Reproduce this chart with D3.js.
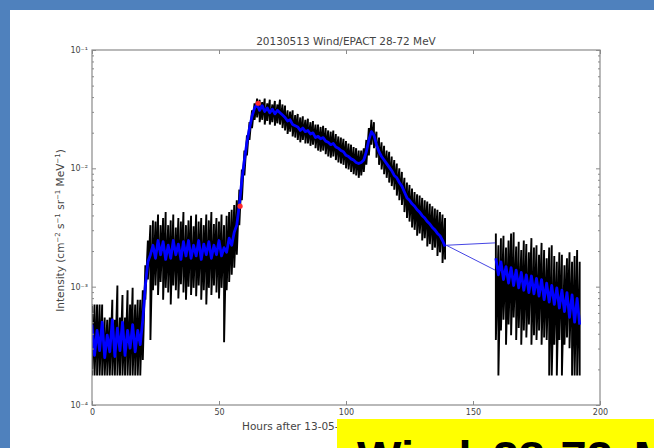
<!DOCTYPE html>
<html>
<head>
<meta charset="utf-8">
<script src="https://cdn.jsdelivr.net/npm/d3@7"></script>
<style>
	html, body { margin: 0; padding: 0; background: #fff; }
	svg { display: block; }
	.custom-text { font-family: "DejaVu Sans", sans-serif; fill: #444; }
</style>
</head>
<body>
<svg id="chart" width="654" height="448"></svg>
<script>
'use strict';

// Wind/EPACT 28-72 MeV, log10 of intensity (cm^-2 s^-1 sr^-1 MeV^-1), one sample per hour
var hoursBefore = d3.range(0, 140);
var blackHighBefore = [
	-3.15, -3.15, -3.15, -3.15, -3.15, -3.26, -3.28, -3.26, -3.11, -3.28,
	-2.99, -3.26, -3.07, -3.26, -3.03, -3.15, -3.01, -3.15, -3.11, -3.11,
	-3.03, -2.82, -2.61, -2.48, -2.44, -2.45, -2.39, -2.48, -2.42, -2.37,
	-2.48, -2.44, -2.39, -2.50, -2.42, -2.45, -2.37, -2.48, -2.44, -2.40,
	-2.49, -2.39, -2.45, -2.42, -2.48, -2.39, -2.44, -2.37, -2.47, -2.42,
	-2.45, -2.39, -2.48, -2.40, -2.37, -2.35, -2.31, -2.27, -2.18, -2.01,
	-1.85, -1.72, -1.61, -1.51, -1.45, -1.41, -1.42, -1.44, -1.41, -1.45,
	-1.42, -1.46, -1.43, -1.46, -1.42, -1.46, -1.47, -1.51, -1.52, -1.51,
	-1.55, -1.54, -1.57, -1.56, -1.59, -1.58, -1.61, -1.60, -1.63, -1.63,
	-1.65, -1.64, -1.66, -1.68, -1.69, -1.68, -1.71, -1.73, -1.74, -1.75,
	-1.77, -1.79, -1.80, -1.82, -1.83, -1.85, -1.85, -1.83, -1.76, -1.66,
	-1.59, -1.61, -1.69, -1.74, -1.78, -1.81, -1.85, -1.86, -1.90, -1.93,
	-1.96, -2.00, -2.03, -2.08, -2.12, -2.14, -2.17, -2.20, -2.22, -2.23,
	-2.25, -2.27, -2.28, -2.30, -2.32, -2.34, -2.35, -2.37, -2.39, -2.42
];
var blackLowBefore = [
	-3.75, -3.75, -3.75, -3.75, -3.75, -3.75, -3.75, -3.75, -3.75, -3.75,
	-3.75, -3.75, -3.75, -3.75, -3.75, -3.75, -3.75, -3.75, -3.75, -3.75,
	-3.62, -3.11, -2.94, -3.45, -3.03, -2.99, -3.07, -2.96, -3.11, -3.01,
	-3.05, -3.15, -2.99, -3.03, -3.10, -2.98, -3.05, -3.11, -3.00, -3.07,
	-3.01, -3.08, -2.99, -3.11, -3.03, -3.15, -3.01, -3.07, -2.99, -3.05,
	-3.10, -3.01, -3.47, -3.03, -2.96, -2.90, -2.84, -2.73, -2.48, -2.27,
	-2.06, -1.89, -1.76, -1.66, -1.59, -1.57, -1.61, -1.59, -1.63, -1.60,
	-1.63, -1.61, -1.64, -1.62, -1.63, -1.66, -1.68, -1.71, -1.69, -1.73,
	-1.74, -1.76, -1.78, -1.76, -1.79, -1.79, -1.81, -1.80, -1.83, -1.85,
	-1.86, -1.85, -1.88, -1.90, -1.91, -1.90, -1.93, -1.95, -1.96, -1.97,
	-2.00, -2.01, -2.03, -2.05, -2.06, -2.08, -2.06, -2.03, -1.97, -1.89,
	-1.80, -1.83, -1.91, -1.97, -2.01, -2.05, -2.08, -2.12, -2.15, -2.18,
	-2.23, -2.27, -2.31, -2.37, -2.42, -2.45, -2.50, -2.52, -2.57, -2.55,
	-2.61, -2.59, -2.66, -2.64, -2.69, -2.67, -2.74, -2.71, -2.80, -2.77
];
var blueBefore = [
	-3.32, -3.58, -3.37, -3.54, -3.30, -3.60, -3.41, -3.55, -3.28, -3.59,
	-3.35, -3.54, -3.30, -3.58, -3.37, -3.52, -3.32, -3.55, -3.37, -3.49,
	-3.28, -2.99, -2.79, -2.73, -2.65, -2.76, -2.61, -2.73, -2.62, -2.77,
	-2.65, -2.76, -2.61, -2.73, -2.64, -2.77, -2.62, -2.74, -2.61, -2.76,
	-2.65, -2.74, -2.61, -2.77, -2.64, -2.73, -2.62, -2.76, -2.65, -2.73,
	-2.61, -2.74, -2.67, -2.71, -2.59, -2.65, -2.54, -2.48, -2.31, -2.10,
	-1.93, -1.78, -1.66, -1.56, -1.49, -1.46, -1.51, -1.47, -1.52, -1.49,
	-1.53, -1.50, -1.54, -1.51, -1.53, -1.55, -1.57, -1.60, -1.59, -1.63,
	-1.64, -1.65, -1.68, -1.66, -1.69, -1.68, -1.71, -1.70, -1.74, -1.73,
	-1.75, -1.74, -1.77, -1.78, -1.80, -1.79, -1.82, -1.83, -1.85, -1.86,
	-1.89, -1.90, -1.92, -1.93, -1.95, -1.96, -1.95, -1.93, -1.86, -1.76,
	-1.69, -1.72, -1.80, -1.86, -1.90, -1.93, -1.96, -1.99, -2.02, -2.06,
	-2.08, -2.12, -2.15, -2.20, -2.25, -2.27, -2.30, -2.32, -2.35, -2.37,
	-2.40, -2.42, -2.45, -2.47, -2.50, -2.52, -2.55, -2.57, -2.61, -2.66
];

var hoursAfter = d3.range(159, 193);
var blackHighAfter = [
	-2.55, -2.65, -2.59, -2.57, -2.67, -2.61, -2.55, -2.54, -2.66, -2.62,
	-2.69, -2.61, -2.64, -2.71, -2.59, -2.67, -2.65, -2.73, -2.63, -2.69,
	-2.76, -2.67, -2.65, -2.74, -2.79, -2.71, -2.73, -2.82, -2.76, -2.71,
	-2.79, -2.74, -2.69, -2.79
];
var blackLowAfter = [
	-3.45, -3.75, -3.37, -3.28, -3.49, -3.32, -3.41, -3.26, -3.45, -3.35,
	-3.49, -3.37, -3.43, -3.32, -3.49, -3.41, -3.45, -3.37, -3.49, -3.43,
	-3.45, -3.75, -3.75, -3.49, -3.75, -3.45, -3.75, -3.49, -3.43, -3.52,
	-3.75, -3.75, -3.75, -3.75
];
var blueAfter = [
	-2.76, -2.90, -2.79, -2.94, -2.83, -2.97, -2.84, -2.99, -2.86, -3.01,
	-2.88, -3.03, -2.90, -3.05, -2.91, -3.06, -2.93, -3.08, -2.94, -3.11,
	-2.97, -3.13, -2.99, -3.15, -3.01, -3.18, -3.03, -3.21, -3.05, -3.26,
	-3.07, -3.30, -3.10, -3.32
];

// data gap joins
var gapHours = [139.5, 158.7];
var gapUpper = [-2.65, -2.63];
var gapLower = [-2.65, -2.86];

// onset / peak markers
var markHours = [58.3, 65.4];
var markValues = [-2.32, -1.45];

var xTicks = [0, 50, 100, 150, 200];
var yTicks = [1e-4, 1e-3, 1e-2, 1e-1];
var yTickLabels = ['10\u207B\u2074', '10\u207B\u00B3', '10\u207B\u00B2', '10\u207B\u00B9'];

var titleText = '20130513 Wind/EPACT 28-72 MeV';
var xLabelText = 'Hours after 13-05-2013 00:00 UT';
var bannerText = 'Wind 28-72 MeV';

var pow10 = function(v){ return Math.pow(10, v); };

var svg = d3.select('#chart');

// slide frame
svg.append('rect').attr('x', 0).attr('y', 0).attr('width', 654).attr('height', 10).attr('fill', '#4f81bd');
svg.append('rect').attr('x', 0).attr('y', 0).attr('width', 10).attr('height', 448).attr('fill', '#4f81bd');

var plot = { left: 92, right: 600, top: 50, bottom: 405 };

var x = d3.scaleLinear().domain([0, 200]).range([plot.left, plot.right]);
var y = d3.scaleLog().domain([1e-4, 1e-1]).range([plot.bottom, plot.top]);

svg.append('clipPath').attr('id', 'plotClip')
	.append('rect')
		.attr('x', plot.left).attr('y', plot.top)
		.attr('width', plot.right - plot.left).attr('height', plot.bottom - plot.top);

var dataHost = svg.append('g').attr('clip-path', 'url(#plotClip)');

var zigzag = function(hours, high, low){
	var p = d3.path();
	hours.forEach(function(h, i){
		var px = x(h);
		if (i === 0)
			p.moveTo(px, y(pow10(high[i])));
		else
			p.lineTo(px, y(pow10(high[i])));
		p.lineTo(px, y(pow10(low[i])));
	});
	return p.toString();
};

var line = d3.line()
	.x(function(d){ return x(d[0]); })
	.y(function(d){ return y(pow10(d[1])); });

dataHost.append('path')
	.attr('d', zigzag(hoursBefore, blackHighBefore, blackLowBefore))
	.attr('fill', 'none').attr('stroke', '#000').attr('stroke-width', 1.9);
dataHost.append('path')
	.attr('d', zigzag(hoursAfter, blackHighAfter, blackLowAfter))
	.attr('fill', 'none').attr('stroke', '#000').attr('stroke-width', 1.9);

dataHost.append('path')
	.attr('d', line(d3.zip(gapHours, gapUpper)))
	.attr('fill', 'none').attr('stroke', '#3030e0').attr('stroke-width', 0.9);
dataHost.append('path')
	.attr('d', line(d3.zip(gapHours, gapLower)))
	.attr('fill', 'none').attr('stroke', '#3030e0').attr('stroke-width', 0.9);

dataHost.append('path')
	.attr('d', line(d3.zip(hoursBefore, blueBefore)))
	.attr('fill', 'none').attr('stroke', '#0000ff').attr('stroke-width', 2.8)
	.attr('stroke-linejoin', 'round');
dataHost.append('path')
	.attr('d', line(d3.zip(hoursAfter, blueAfter)))
	.attr('fill', 'none').attr('stroke', '#0000ff').attr('stroke-width', 2.8)
	.attr('stroke-linejoin', 'round');

dataHost.selectAll('circle.mark')
	.data(d3.zip(markHours, markValues))
	.enter()
	.append('circle')
		.attr('class', 'mark')
		.attr('cx', function(d){ return x(d[0]); })
		.attr('cy', function(d){ return y(pow10(d[1])); })
		.attr('r', 2.6)
		.attr('fill', '#ff2a2a');

// frame
svg.append('rect')
	.attr('x', plot.left).attr('y', plot.top)
	.attr('width', plot.right - plot.left).attr('height', plot.bottom - plot.top)
	.attr('fill', 'none').attr('stroke', '#8a8a8a').attr('stroke-width', 1.2);

var minorY = y.ticks().filter(function(v){ return yTicks.indexOf(v) < 0; });

var styleAxis = function(g){
	g.select('.domain').remove();
	g.selectAll('line').attr('stroke', '#8a8a8a');
	g.selectAll('text')
		.attr('class', 'custom-text')
		.attr('font-size', 8)
		.attr('fill', '#555');
};

svg.append('g')
	.attr('transform', 'translate(0,' + plot.bottom + ')')
	.call(d3.axisBottom(x).tickValues(xTicks).tickSizeInner(-4).tickSizeOuter(0).tickPadding(4))
	.call(styleAxis);
svg.append('g')
	.attr('transform', 'translate(0,' + plot.top + ')')
	.call(d3.axisTop(x).tickValues(xTicks).tickSizeInner(-4).tickSizeOuter(0).tickFormat(''))
	.call(styleAxis);

svg.append('g')
	.attr('transform', 'translate(' + plot.left + ',0)')
	.call(d3.axisLeft(y).tickValues(yTicks).tickSizeInner(-4).tickSizeOuter(0).tickPadding(4)
		.tickFormat(function(d, i){ return yTickLabels[i]; }))
	.call(styleAxis);
svg.append('g')
	.attr('transform', 'translate(' + plot.left + ',0)')
	.call(d3.axisLeft(y).tickValues(minorY).tickSizeInner(-2).tickSizeOuter(0).tickFormat(''))
	.call(styleAxis);
svg.append('g')
	.attr('transform', 'translate(' + plot.right + ',0)')
	.call(d3.axisRight(y).tickValues(yTicks).tickSizeInner(-4).tickSizeOuter(0).tickFormat(''))
	.call(styleAxis);
svg.append('g')
	.attr('transform', 'translate(' + plot.right + ',0)')
	.call(d3.axisRight(y).tickValues(minorY).tickSizeInner(-2).tickSizeOuter(0).tickFormat(''))
	.call(styleAxis);

// texts
svg.append('text')
	.attr('class', 'custom-text')
	.attr('x', (plot.left + plot.right) / 2).attr('y', 45)
	.attr('text-anchor', 'middle')
	.attr('font-size', 10.5)
	.text(titleText);

svg.append('text')
	.attr('class', 'custom-text')
	.attr('transform', 'translate(64,' + ((plot.top + plot.bottom) / 2 + 3) + ') rotate(-90)')
	.attr('text-anchor', 'middle')
	.attr('font-size', 10.5)
	.call(function(t){
		t.append('tspan').text('Intensity (cm');
		t.append('tspan').attr('dy', -4).attr('font-size', 7).text('\u22122');
		t.append('tspan').attr('dy', 4).text(' s');
		t.append('tspan').attr('dy', -4).attr('font-size', 7).text('\u22121');
		t.append('tspan').attr('dy', 4).text(' sr');
		t.append('tspan').attr('dy', -4).attr('font-size', 7).text('\u22121');
		t.append('tspan').attr('dy', 4).text(' MeV');
		t.append('tspan').attr('dy', -4).attr('font-size', 7).text('\u22121');
		t.append('tspan').attr('dy', 4).text(')');
	});

svg.append('text')
	.attr('class', 'custom-text')
	.attr('x', 242).attr('y', 430)
	.attr('font-size', 10.5)
	.text(xLabelText);

// banner (runs off the bottom edge, as on the slide)
svg.append('rect')
	.attr('x', 337).attr('y', 419).attr('width', 317).attr('height', 29)
	.attr('fill', '#ffff00');
svg.append('text')
	.attr('x', 357).attr('y', 474)
	.attr('font-family', '"Liberation Sans", Arial, sans-serif')
	.attr('font-weight', 'bold')
	.attr('font-size', 47)
	.attr('word-spacing', 8)
	.attr('fill', '#000')
	.text(bannerText);
</script>
</body>
</html>
